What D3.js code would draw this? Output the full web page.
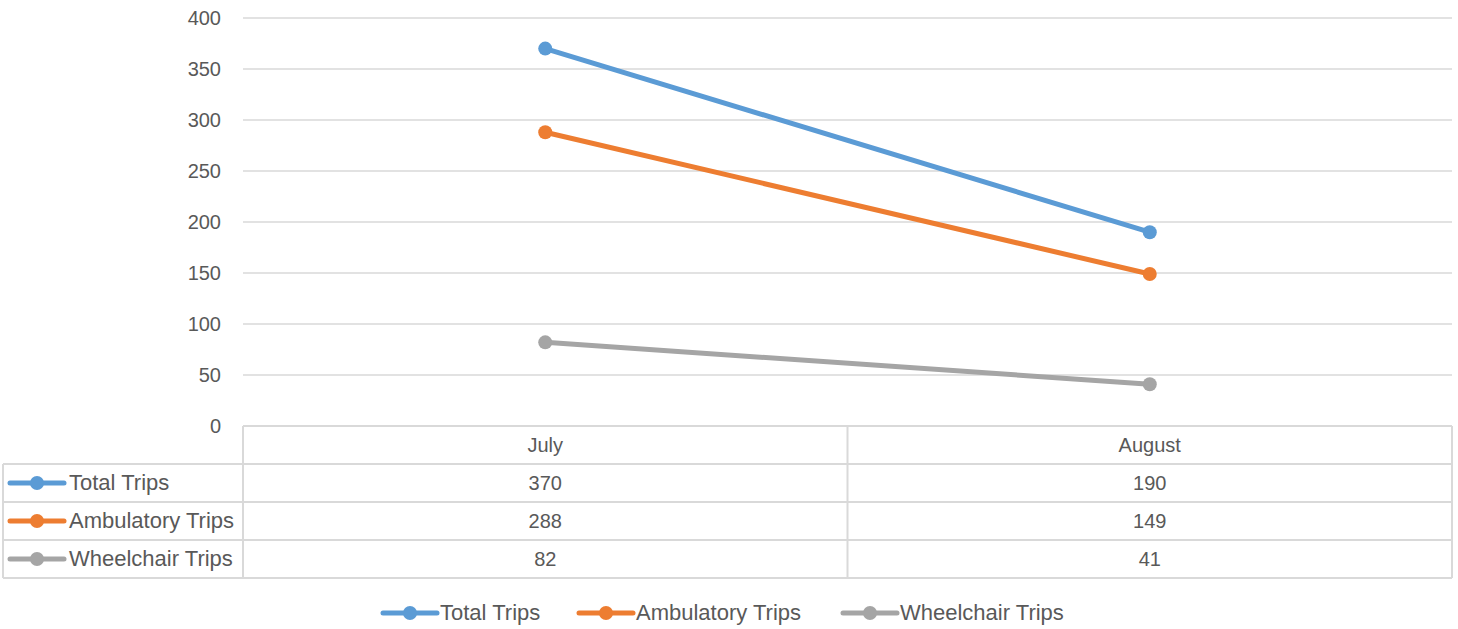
<!DOCTYPE html>
<html>
<head>
<meta charset="utf-8">
<script src="https://cdn.jsdelivr.net/npm/d3@7"></script>
<style>
  body { margin: 0; background: #fff; }
  text { font-family: "Liberation Sans", Arial, sans-serif; fill: #595959; }
</style>
</head>
<body>
<svg width="1458" height="629"></svg>
<script>
// chart data
const months = ["July", "August"];
const seriesNames = ["Total Trips", "Ambulatory Trips", "Wheelchair Trips"];
const totalTrips = [370, 190];
const ambulatoryTrips = [288, 149];
const wheelchairTrips = [82, 41];
const yTicks = [0, 50, 100, 150, 200, 250, 300, 350, 400];
const colors = ["#5B9BD5", "#ED7D31", "#A5A5A5"];

const series = [totalTrips, ambulatoryTrips, wheelchairTrips].map((vals, i) => ({
  name: seriesNames[i],
  color: colors[i],
  values: vals.map((v, j) => ({ month: months[j], value: v }))
}));

const svg = d3.select("svg");
const plotLeft = 243, plotRight = 1452, plotTop = 18, plotBottom = 426;
const rowH = 38;
const gridColor = "#d9d9d9";
const numSize = "20px", labelSize = "22px";

const x = d3.scaleBand().domain(months).range([plotLeft, plotRight]);
const y = d3.scaleLinear().domain([0, 400]).range([plotBottom, plotTop]);

// gridlines
svg.append("g")
  .selectAll("line")
  .data(yTicks.slice(1))
  .enter()
  .append("line")
  .attr("x1", plotLeft)
  .attr("x2", plotRight)
  .attr("y1", (d) => y(d))
  .attr("y2", (d) => y(d))
  .attr("stroke", gridColor)
  .attr("stroke-width", 1.3);

// y axis labels
svg.append("g")
  .selectAll("text")
  .data(yTicks)
  .enter()
  .append("text")
  .attr("x", 221)
  .attr("y", (d) => y(d) + 7)
  .attr("text-anchor", "end")
  .attr("font-size", numSize)
  .text((d) => d);

// lines
const line = d3.line()
  .x((d) => x(d.month) + x.bandwidth() / 2)
  .y((d) => y(d.value));

const sg = svg.append("g")
  .selectAll("g")
  .data(series)
  .enter()
  .append("g");

sg.append("path")
  .attr("d", (d) => line(d.values))
  .attr("fill", "none")
  .attr("stroke", (d) => d.color)
  .attr("stroke-width", 5)
  .attr("stroke-linecap", "round");

sg.selectAll("circle")
  .data((d) => d.values.map((v) => ({ ...v, color: d.color })))
  .enter()
  .append("circle")
  .attr("cx", (d) => x(d.month) + x.bandwidth() / 2)
  .attr("cy", (d) => y(d.value))
  .attr("r", 7)
  .attr("fill", (d) => d.color);

// data table
const table = svg.append("g")
  .attr("stroke", gridColor)
  .attr("stroke-width", 2)
  .attr("fill", "none");

// horizontal lines
table.append("line").attr("x1", plotLeft).attr("x2", plotRight).attr("y1", plotBottom).attr("y2", plotBottom);
for (let r = 1; r <= series.length + 1; r++) {
  table.append("line")
    .attr("x1", 3).attr("x2", plotRight)
    .attr("y1", plotBottom + r * rowH).attr("y2", plotBottom + r * rowH);
}
// vertical lines
table.append("line").attr("x1", 3).attr("x2", 3)
  .attr("y1", plotBottom + rowH).attr("y2", plotBottom + rowH * 4);
months.forEach((m) => {
  table.append("line").attr("x1", x(m)).attr("x2", x(m))
    .attr("y1", plotBottom).attr("y2", plotBottom + rowH * 4);
});
table.append("line").attr("x1", plotRight).attr("x2", plotRight)
  .attr("y1", plotBottom).attr("y2", plotBottom + rowH * 4);

// header row
svg.append("g")
  .selectAll("text")
  .data(months)
  .enter()
  .append("text")
  .attr("x", (d) => x(d) + x.bandwidth() / 2)
  .attr("y", plotBottom + rowH / 2 + 7)
  .attr("text-anchor", "middle")
  .attr("font-size", numSize)
  .text((d) => d);

// legend key helper
function legendKey(g, color, x0) {
  g.append("line")
    .attr("x1", x0).attr("x2", x0 + 54)
    .attr("y1", 0).attr("y2", 0)
    .attr("stroke", color)
    .attr("stroke-width", 5)
    .attr("stroke-linecap", "round");
  g.append("circle").attr("cx", x0 + 27).attr("cy", 0).attr("r", 7).attr("fill", color);
}

series.forEach((s, i) => {
  const cy = plotBottom + rowH * (i + 1) + rowH / 2;
  const row = svg.append("g").attr("transform", `translate(0,${cy})`);
  legendKey(row, s.color, 10);
  row.append("text")
    .attr("x", 69)
    .attr("y", 7)
    .attr("font-size", labelSize)
    .text(s.name);
  row.selectAll("text.val")
    .data(s.values)
    .enter()
    .append("text")
    .attr("class", "val")
    .attr("x", (d) => x(d.month) + x.bandwidth() / 2)
    .attr("y", 7)
    .attr("text-anchor", "middle")
    .attr("font-size", numSize)
    .text((d) => d.value);
});

// bottom legend
const legendX = [383, 579, 843];
series.forEach((s, i) => {
  const g = svg.append("g").attr("transform", `translate(0,613)`);
  legendKey(g, s.color, legendX[i]);
  g.append("text")
    .attr("x", legendX[i] + 57)
    .attr("y", 7)
    .attr("font-size", labelSize)
    .text(s.name);
});
</script>
</body>
</html>
